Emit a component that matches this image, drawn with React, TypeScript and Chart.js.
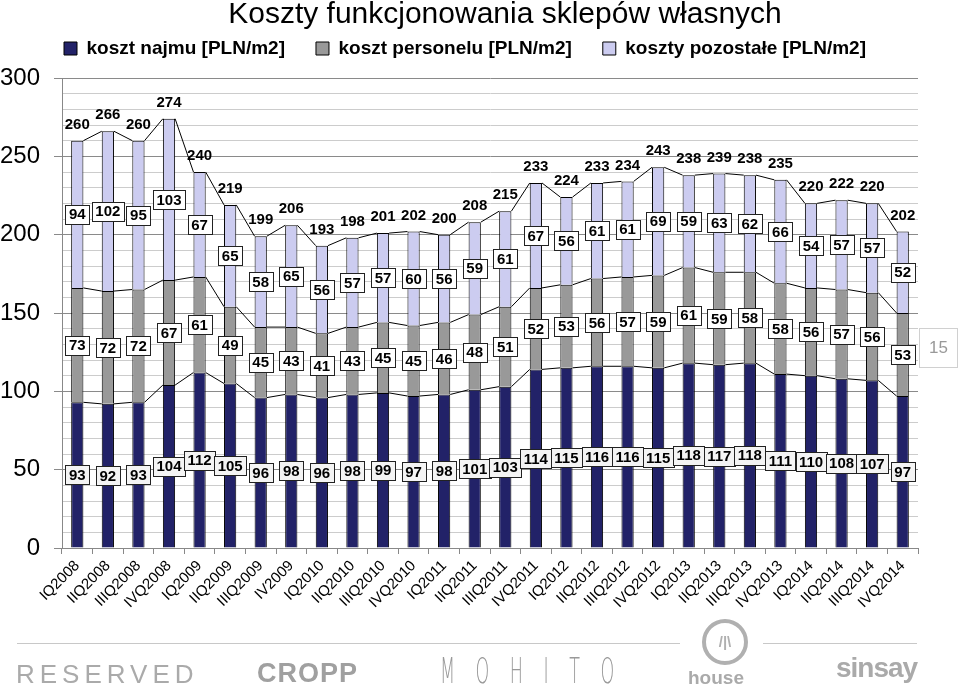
import React, { useEffect, useRef } from 'react';
import { Chart, registerables } from 'chart.js';
Chart.register(...registerables);

const categories = ['IQ2008','IIQ2008','IIIQ2008','IVQ2008','IQ2009','IIQ2009','IIIQ2009','IV2009','IQ2010','IIQ2010','IIIQ2010','IVQ2010','IQ2011','IIQ2011','IIIQ2011','IVQ2011','IQ2012','IIQ2012','IIIQ2012','IVQ2012','IQ2013','IIQ2013','IIIQ2013','IVQ2013','IQ2014','IIQ2014','IIIQ2014','IVQ2014'];
const rentCost = [93,92,93,104,112,105,96,98,96,98,99,97,98,101,103,114,115,116,116,115,118,117,118,111,110,108,107,97];
const staffCost = [73,72,72,67,61,49,45,43,41,43,45,45,46,48,51,52,53,56,57,59,61,59,58,58,56,57,56,53];
const otherCost = [94,102,95,103,67,65,58,65,56,57,57,60,56,59,61,67,56,61,61,69,59,63,62,66,54,57,57,52];
const totals = [260,266,260,274,240,219,199,206,193,198,201,202,200,208,215,233,224,233,234,243,238,239,238,235,220,222,220,202];
const seriesNames = ['koszt najmu [PLN/m2]', 'koszt personelu [PLN/m2]', 'koszty pozostałe [PLN/m2]'];
const titleText = 'Koszty funkcjonowania sklepów własnych';

const FONT = '"Liberation Sans", Arial, sans-serif';

const legendSpacer = {
  id: 'legendSpacer',
  beforeLayout(chart: any) {
    const lg = chart.legend;
    if (lg && !lg.__patched) {
      const fit = lg.fit;
      lg.fit = function () {
        fit.call(this);
        this.height += 10;
      };
      const draw = lg.draw;
      lg.draw = function () {
        const c = this.ctx;
        c.save();
        c.translate(6, 0);
        draw.call(this);
        c.restore();
      };
      lg.__patched = true;
    }
  },
};

const titlePlugin = {
  id: 'customTitle',
  afterDraw(chart: any) {
    const ctx = chart.ctx;
    ctx.save();
    ctx.font = `30px ${FONT}`;
    ctx.fillStyle = '#000';
    ctx.textAlign = 'center';
    ctx.textBaseline = 'alphabetic';
    ctx.fillText(titleText, 505, 23);
    ctx.restore();
  },
};

const seriesLinesAndLabels = {
  id: 'seriesLinesAndLabels',
  afterDatasetsDraw(chart: any) {
    const ctx = chart.ctx;
    const n = chart.data.datasets.length;
    ctx.save();
    ctx.strokeStyle = '#000';
    ctx.lineWidth = 1;
    for (let d = 0; d < n; d++) {
      const meta = chart.getDatasetMeta(d);
      ctx.beginPath();
      for (let i = 0; i < meta.data.length - 1; i++) {
        const a = meta.data[i];
        const b = meta.data[i + 1];
        ctx.moveTo(a.x + a.width / 2, a.y);
        ctx.lineTo(b.x - b.width / 2, b.y);
      }
      ctx.stroke();
    }
    ctx.font = `bold 15px ${FONT}`;
    ctx.textAlign = 'center';
    ctx.textBaseline = 'middle';
    for (let d = 0; d < n; d++) {
      const meta = chart.getDatasetMeta(d);
      const vals = chart.data.datasets[d].data;
      meta.data.forEach((el: any, i: number) => {
        const txt = String(vals[i]);
        const cx = el.x;
        const cy = (el.y + el.base) / 2;
        const w = Math.round(ctx.measureText(txt).width + 7);
        const h = 19;
        const x0 = Math.round(cx - w / 2) + 0.5;
        const y0 = Math.round(cy - h / 2) + 0.5;
        ctx.fillStyle = d === 0 ? '#f4f4f4' : '#ffffff';
        ctx.fillRect(x0, y0, w, h);
        ctx.strokeStyle = '#222';
        ctx.strokeRect(x0, y0, w, h);
        ctx.fillStyle = '#000';
        ctx.fillText(txt, cx, cy + 1);
      });
    }
    const top = chart.getDatasetMeta(n - 1);
    top.data.forEach((el: any, i: number) => {
      ctx.fillStyle = '#000';
      ctx.fillText(String(totals[i]), el.x, el.y - 16);
    });
    ctx.restore();
  },
};

export default function App() {
  const ref = useRef<HTMLCanvasElement>(null);
  useEffect(() => {
    if (!ref.current) return;
    const chart = new Chart(ref.current, {
      type: 'bar',
      data: {
        labels: categories,
        datasets: [
          { label: seriesNames[0], data: rentCost, backgroundColor: '#222268', borderColor: '#000', borderWidth: 1 },
          { label: seriesNames[1], data: staffCost, backgroundColor: '#999999', borderColor: '#000', borderWidth: 1 },
          { label: seriesNames[2], data: otherCost, backgroundColor: '#ccccf0', borderColor: '#000', borderWidth: 1 },
        ],
      },
      options: {
        responsive: false,
        animation: false,
        layout: { padding: { top: 8, right: 42, left: 0, bottom: 0 } },
        datasets: { bar: { barPercentage: 0.4, categoryPercentage: 1 } },
        plugins: {
          title: { display: false },
          tooltip: { enabled: false },
          legend: {
            display: true,
            position: 'top',
            labels: {
              boxWidth: 13,
              boxHeight: 13,
              padding: 31,
              color: '#000',
              font: { family: FONT, size: 19, weight: 'bold' },
            },
          },
        },
        scales: {
          x: {
            stacked: true,
            afterFit: (s: any) => { s.height = 145; },
            grid: { display: true, drawOnChartArea: false, offset: true, tickLength: 6, color: '#888' },
            border: { color: '#888' },
            ticks: {
              minRotation: 45,
              maxRotation: 45,
              autoSkip: false,
              padding: 3,
              color: '#000',
              font: { family: FONT, size: 15 },
            },
          },
          y: {
            stacked: true,
            min: 0,
            max: 300,
            afterFit: (s: any) => { s.width = 62; },
            border: { color: '#888' },
            grid: {
              color: (c: any) => (c.tick && c.tick.value % 50 === 0 ? '#8a8a8a' : '#cccccc'),
              tickColor: (c: any) => (c.tick && c.tick.value % 50 === 0 ? '#8a8a8a' : 'rgba(0,0,0,0)'),
              tickLength: 8,
            },
            ticks: {
              stepSize: 10,
              maxTicksLimit: 100,
              autoSkip: false,
              padding: 14,
              color: '#000',
              font: { family: FONT, size: 24 },
              callback: (v: any) => (Number(v) % 50 === 0 ? String(v) : ''),
            },
          },
        },
      },
      plugins: [legendSpacer, titlePlugin, seriesLinesAndLabels],
    } as any);
    return () => chart.destroy();
  }, []);

  const gray = '#aaaaaa';
  return (
    <div style={{ position: 'absolute', left: 0, top: 0, width: 960, height: 693, background: '#fff', overflow: 'hidden' }}>
      <canvas ref={ref} width={960} height={693} style={{ display: 'block', width: 960, height: 693 }} />
      <div style={{ position: 'absolute', left: 919, top: 328, width: 37, height: 38, border: '1px solid #d0d0d0', color: '#999', fontFamily: FONT, fontSize: 17, lineHeight: '38px', textAlign: 'center' }}>15</div>
      <div style={{ position: 'absolute', left: 17, top: 643, width: 663, height: 1, background: '#c8c8c8' }} />
      <div style={{ position: 'absolute', left: 763, top: 643, width: 154, height: 1, background: '#c8c8c8' }} />
      <div style={{ position: 'absolute', left: 16, top: 661, fontFamily: FONT, fontSize: 26, lineHeight: '26px', letterSpacing: 5, color: gray, whiteSpace: 'nowrap' }}>RESERVED</div>
      <div style={{ position: 'absolute', left: 257, top: 660, fontFamily: FONT, fontSize: 27, fontWeight: 'bold', lineHeight: '27px', letterSpacing: 1, color: '#a0a0a0', whiteSpace: 'nowrap' }}>CROPP</div>
      <div style={{ position: 'absolute', left: 440, top: 654, fontFamily: '"DejaVu Sans", sans-serif', fontWeight: 300, fontSize: 35, lineHeight: '35px', letterSpacing: 41, color: '#999', whiteSpace: 'nowrap', transform: 'scaleX(0.5)', transformOrigin: 'left top' }}>MOHITO</div>
      <div style={{ position: 'absolute', left: 702, top: 619, width: 38, height: 38, borderRadius: '50%', border: '4px solid #b0b0b0', color: '#b0b0b0', fontFamily: FONT, fontWeight: 'bold', fontSize: 15, lineHeight: '38px', textAlign: 'center' }}>/|\</div>
      <div style={{ position: 'absolute', left: 688, top: 668, fontFamily: FONT, fontWeight: 'bold', fontSize: 19, lineHeight: '20px', color: gray, whiteSpace: 'nowrap' }}>house</div>
      <div style={{ position: 'absolute', left: 836, top: 654, fontFamily: FONT, fontWeight: 'bold', fontSize: 28, lineHeight: '28px', letterSpacing: -1, color: gray, whiteSpace: 'nowrap' }}>sinsay</div>
    </div>
  );
}
